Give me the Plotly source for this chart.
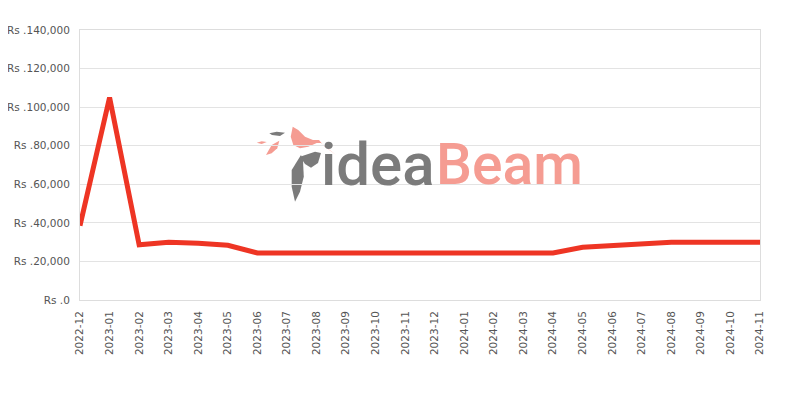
import plotly.graph_objects as go

months = ["2022-12", "2023-01", "2023-02", "2023-03", "2023-04", "2023-05", "2023-06",
          "2023-07", "2023-08", "2023-09", "2023-10", "2023-11", "2023-12", "2024-01",
          "2024-02", "2024-03", "2024-04", "2024-05", "2024-06", "2024-07", "2024-08",
          "2024-09", "2024-10", "2024-11"]
prices = [38500, 105000, 28600, 29900, 29400, 28400, 24400,
          24400, 24400, 24400, 24400, 24400, 24400, 24400,
          24400, 24400, 24400, 27300, 28000, 29200, 29900,
          29900, 29900, 29900]

# plot area in window pixels (for watermark placement only); page body has an 8px margin
OFF = 8
L, R, T, B = 80, 760, 30, 300


def px_path(pts):
    s = ""
    for i, (px, py) in enumerate(pts):
        x = (px - L) / (R - L)
        y = (B - py) / (B - T)
        s += ("M" if i == 0 else "L") + f"{x:.4f},{y:.4f} "
    return s + "Z"


fig = go.Figure()
fig.add_trace(go.Scatter(x=list(range(len(months))), y=prices, mode="lines",
                         line=dict(color="#EE3524", width=5), hoverinfo="skip"))

salmon = "#F59C92"
gray = "#7b7b7b"
bird = [
    (salmon, [(292.7, 126.7), (290.7, 136.7), (293.3, 145), (300, 148.3), (308.3, 146.7),
              (316.7, 143), (321, 143), (336, 155), (324, 146), (319, 140), (313, 140),
              (305, 136.7), (298.3, 130)]),
    (gray, [(300, 156.7), (315, 151.7), (321, 153), (318, 163), (311, 167.7), (305, 164)]),
    (gray, [(301, 155), (291.7, 170), (291.7, 186.7), (295, 201.7), (300, 191.7),
            (303.8, 176.7), (303, 160)]),
    (gray, [(269.3, 133.3), (276.7, 131.7), (285, 132.7), (280, 136), (272, 135)]),
    (salmon, [(256.7, 142.7), (261.7, 141.3), (266.7, 142), (261.7, 144)]),
    (salmon, [(266, 155), (271.7, 145), (279.3, 140.7), (277.3, 148.3), (271.7, 153.3)]),
]
for col, pts in bird:
    fig.add_shape(type="path", xref="paper", yref="paper", path=px_path(pts),
                  fillcolor=col, line=dict(width=0), layer="below")

# watermark text
fig.add_annotation(x=(437 - L) / (R - L), y=(B - 164) / (B - T), xref="paper", yref="paper",
                   text="idea", showarrow=False, xanchor="right", yanchor="middle",
                   font=dict(family="Roboto", size=60, color=gray, weight=500))
fig.add_annotation(x=(434 - L) / (R - L), y=(B - 164) / (B - T), xref="paper", yref="paper",
                   text="Beam", showarrow=False, xanchor="left", yanchor="middle",
                   font=dict(family="Roboto", size=57, color=salmon, weight=500))

fig.update_layout(
    width=800 - OFF, height=400 - OFF,
    margin=dict(l=L - OFF, r=800 - R, t=T - OFF, b=400 - B),
    paper_bgcolor="white", plot_bgcolor="white",
    showlegend=False,
    font=dict(family="DejaVu Sans", size=10.5, color="#555"),
    xaxis=dict(tickmode="array", tickvals=list(range(len(months))), ticktext=months,
               tickangle=-90, range=[0, len(months) - 1], showgrid=False,
               showline=True, mirror=True, linecolor="#dddddd", linewidth=1,
               ticks="", zeroline=False, automargin=False, ticklabelstandoff=6),
    yaxis=dict(range=[0, 140000], dtick=20000, tickprefix="Rs .", tickformat=",",
               showgrid=True, gridcolor="#e3e3e3", showline=True, mirror=True,
               linecolor="#dddddd", linewidth=1, zeroline=False, ticks="",
               automargin=False, ticklabelstandoff=7),
)
fig.write_html("out.html")
